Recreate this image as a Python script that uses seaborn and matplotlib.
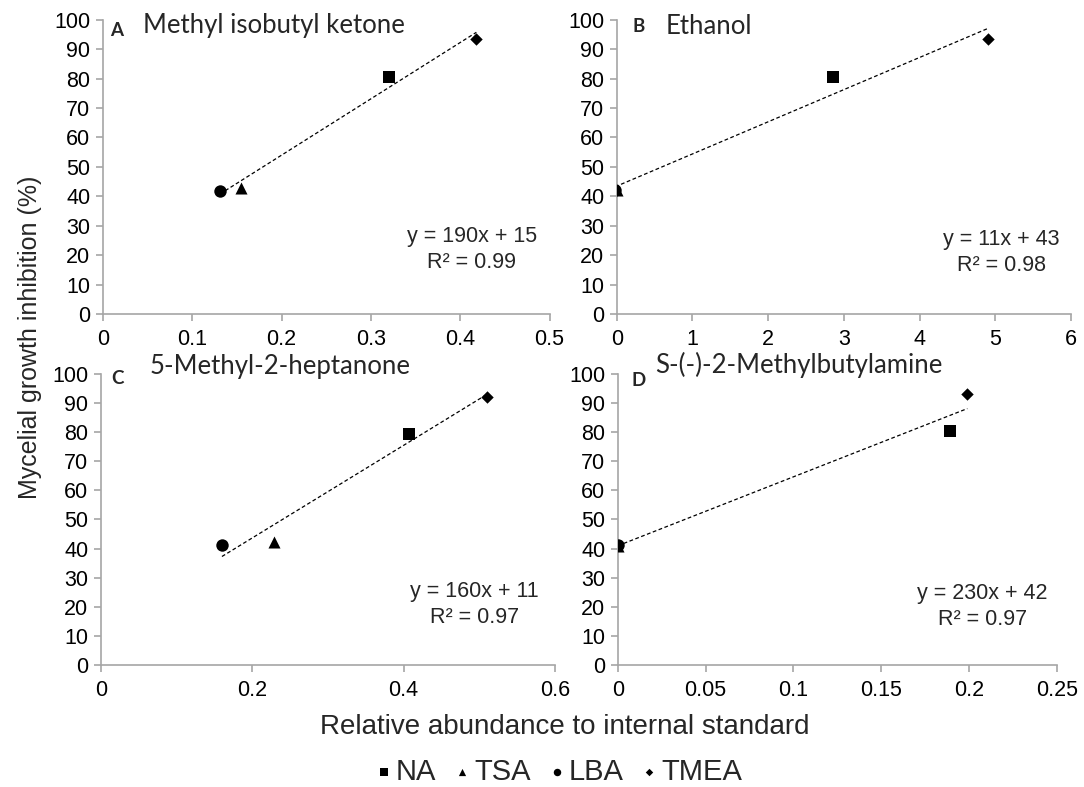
import matplotlib
matplotlib.use("Agg")
import matplotlib.pyplot as plt
import numpy as np
import pandas as pd
import seaborn as sns

#------Data------

MEDIA = ["NA", "TSA", "LBA", "TMEA"]
MARKERS = {"NA": "s", "TSA": "^", "LBA": "o", "TMEA": "D"}
SIZES = {"NA": 85, "TSA": 75, "LBA": 80, "TMEA": 40}

PANELS = ["A", "B", "C", "D"]
COMPOUNDS = ["Methyl isobutyl ketone", "Ethanol", "5-Methyl-2-heptanone", "S-(-)-2-Methylbutylamine"]

# relative abundance, order NA, TSA, LBA, TMEA
abund_a = [0.32, 0.155, 0.131, 0.418]
abund_b = [2.85, 0.0, -0.02, 4.90]
abund_c = [0.407, 0.229, 0.160, 0.510]
abund_d = [0.189, 0.0, 0.0, 0.199]

# mycelial growth inhibition (%)
inhib_a = [80.6, 42.9, 41.8, 93.5]
inhib_b = [80.6, 42.0, 42.2, 93.5]
inhib_c = [79.4, 42.3, 41.2, 92.1]
inhib_d = [80.4, 41.0, 41.2, 93.1]

equations = ["y = 190x + 15\nR² = 0.99", "y = 11x + 43\nR² = 0.98",
             "y = 160x + 11\nR² = 0.97", "y = 230x + 42\nR² = 0.97"]

x_max = [0.5, 6, 0.6, 0.25]
x_step = [0.1, 1, 0.2, 0.05]

#------Layout------

sns.set_theme(style="white")
plt.rcParams["font.family"] = ["Liberation Sans", "DejaVu Sans"]

fig = plt.figure(figsize=(10.84, 7.87), dpi=100)

# [left, bottom, width, height] in figure fractions
rects = [
    [0.095, 0.601, 0.412, 0.374],
    [0.569, 0.601, 0.419, 0.374],
    [0.093, 0.155, 0.419, 0.370],
    [0.570, 0.155, 0.405, 0.370],
]
title_pos = [(0.09, 0.98), (0.108, 0.976), (0.108, 1.024), (0.084, 1.03)]
letter_pos = [(0.016, 0.963), (0.035, 0.976), (0.022, 0.983), (0.032, 0.978)]
eq_pos = [(0.826, 0.218), (0.846, 0.21), (0.822, 0.208), (0.83, 0.201)]

xs = [abund_a, abund_b, abund_c, abund_d]
ys = [inhib_a, inhib_b, inhib_c, inhib_d]

grey = "#a6a6a6"

for i in range(4):
    ax = fig.add_axes(rects[i])
    df = pd.DataFrame({"medium": MEDIA, "x": xs[i], "y": ys[i]})

    # trendline (least squares, over data range)
    sns.regplot(data=df, x="x", y="y", ax=ax, scatter=False, ci=None, truncate=True,
                line_kws={"color": "black", "lw": 0.9, "linestyle": (0, (3, 2))})

    for m in MEDIA:
        sub = df[df["medium"] == m]
        sns.scatterplot(data=sub, x="x", y="y", ax=ax, marker=MARKERS[m], s=SIZES[m],
                        color="black", edgecolor="black", linewidth=0, label=m, legend=False,
                        zorder=3)

    ax.set_xlim(0, x_max[i])
    ax.set_ylim(0, 100)
    ax.set_xticks(np.arange(0, x_max[i] + x_step[i] / 2, x_step[i]))
    ax.set_yticks(range(0, 101, 10))
    ax.xaxis.set_major_formatter(matplotlib.ticker.FuncFormatter(lambda v, p: f"{v:g}"))
    ax.set_xlabel("")
    ax.set_ylabel("")

    sns.despine(ax=ax)
    for side in ["left", "bottom"]:
        ax.spines[side].set_color(grey)
        ax.spines[side].set_linewidth(1.2)
    ax.tick_params(axis="both", direction="out", length=5, width=1.2, color=grey,
                   labelsize=15.5, labelcolor="black", pad=4)
    ax.tick_params(axis="y", left=True)
    ax.tick_params(axis="x", bottom=True, pad=6)

    ax.text(*letter_pos[i], PANELS[i], transform=ax.transAxes, fontsize=13.5,
            fontweight="bold", family=["Lato", "DejaVu Sans"], va="center", ha="left")
    ax.text(*title_pos[i], COMPOUNDS[i], transform=ax.transAxes, fontsize=18.5,
            family=["Lato", "DejaVu Sans"], va="center", ha="left")
    ax.text(*eq_pos[i], equations[i], transform=ax.transAxes, fontsize=15.5,
            va="center", ha="center", linespacing=1.3)

fig.text(0.028, 0.572, "Mycelial growth inhibition (%)", rotation=90, fontsize=18,
         va="center", ha="center")
fig.text(0.521, 0.076, "Relative abundance to internal standard", fontsize=20,
         va="center", ha="center")

handles, labels = fig.axes[0].get_legend_handles_labels()
fig.legend(handles, labels, loc="center", bbox_to_anchor=(0.514, 0.019), ncol=4,
           frameon=False, fontsize=21, markerscale=0.6, handletextpad=0.0,
           columnspacing=0.5, handlelength=0.8, borderpad=0)

fig.savefig("out.png", dpi=100)
